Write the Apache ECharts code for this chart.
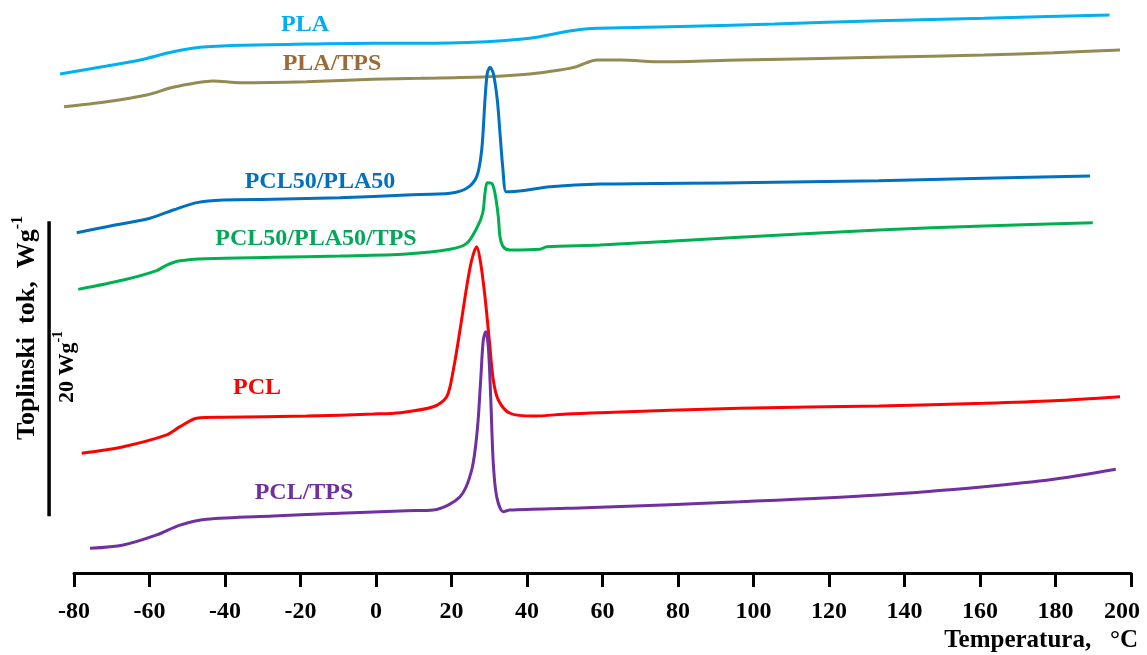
<!DOCTYPE html>
<html>
<head>
<meta charset="utf-8">
<script src="https://cdn.jsdelivr.net/npm/echarts@6/dist/echarts.min.js"></script>
<style>
html,body{margin:0;padding:0;background:#fff;}
#c{width:1147px;height:655px;}
</style>
</head>
<body>
<div id="c"></div>
<script>
// ---- data: [temperature (°C), heat flow (W/g, shifted)] ----
const seriesNames = ['PLA', 'PLA/TPS', 'PCL50/PLA50', 'PCL50/PLA50/TPS', 'PCL', 'PCL/TPS'];
const xTicks = [-80, -60, -40, -20, 0, 20, 40, 60, 80, 100, 120, 140, 160, 180, 200];

const PLA = [[-83.7,33.83],[-71.34,34.37],[-62.52,34.78],[-53.77,35.34],[-46.62,35.64],[-36.03,35.78],
  [-18.36,35.86],[-0.79,35.91],[11.66,35.91],[29.32,36.02],[38.15,36.18],[43.44,36.36],[48.74,36.63],
  [53.17,36.81],[58.46,36.93],[77.83,37.04],[105.56,37.22],[133.24,37.44],[161.06,37.61],[194.3,37.83]];

const PLA_TPS = [[-82.65,31.61],[-71.34,31.95],[-60.74,32.41],[-53.77,32.93],[-47.5,33.24],[-43.18,33.36],
  [-36.03,33.24],[-18.36,33.31],[-0.79,33.47],[11.66,33.54],[29.32,33.65],[40.79,33.83],[48.74,34.10],
  [53.17,34.33],[55.82,34.60],[58.46,34.78],[64.63,34.78],[75.97,34.66],[96.32,34.78],[133.24,34.96],
  [161.06,35.12],[179.52,35.27],[197.09,35.46]];

const PCL50_PLA50 = [[-79.28,23.07],[-71.34,23.48],[-59.87,24.05],[-53.7,24.61],[-47.5,25.11],[-40.45,25.29],
  [-27.21,25.34],[-9.54,25.44],[8.13,25.63],[19.6,25.74],[24.03,26.08],[26.67,26.87],[28.0,28.68],
  [28.87,32.07],[29.48,33.88],[30.2,34.28],[31.07,33.88],[32.13,32.07],[32.85,29.81],[33.56,27.55],
  [34.44,25.85],[35.5,25.85],[46.09,26.19],[59.34,26.37],[96.32,26.46],[133.24,26.60],[161.06,26.76],[189.14,26.92]];

const PCL50_PLA50_TPS = [[-78.86,19.23],[-66.94,19.86],[-58.09,20.50],[-55.44,20.88],[-51.92,21.17],[-44.85,21.31],
  [-27.21,21.40],[-9.54,21.49],[8.13,21.63],[19.6,21.95],[24.03,22.35],[26.67,23.37],[28.26,24.39],
  [28.87,25.74],[29.48,26.46],[30.65,26.42],[31.52,25.74],[32.4,24.16],[32.85,22.80],[33.72,22.12],
  [35.5,21.90],[43.44,21.95],[45.22,22.12],[59.34,22.24],[96.32,22.76],[133.24,23.25],[161.06,23.53],[189.88,23.75]];

const PCL = [[-77.96,8.12],[-66.94,8.56],[-55.44,9.36],[-51.92,9.92],[-47.5,10.49],[-40.45,10.56],
  [-18.36,10.64],[-0.72,10.78],[6.36,10.87],[15.18,11.27],[18.73,11.95],[20.48,13.76],[22.25,16.47],
  [24.03,19.41],[25.35,21.22],[26.67,22.12],[27.73,21.00],[28.87,18.73],[30.01,15.80],[31.07,13.08],
  [32.4,11.73],[35.5,10.83],[41.67,10.64],[50.52,10.78],[59.34,10.87],[96.32,11.17],[133.24,11.32],
  [161.06,11.51],[179.52,11.68],[197.09,11.95]];

const PCL_TPS = [[-75.76,1.67],[-66.94,1.90],[-58.09,2.58],[-51.92,3.25],[-44.85,3.64],[-27.21,3.86],
  [-9.54,4.05],[8.13,4.22],[15.18,4.27],[22.25,5.17],[25.35,6.98],[26.83,9.69],[27.73,13.08],
  [28.42,15.80],[29.06,16.36],[29.75,15.34],[30.38,11.95],[31.07,7.44],[31.97,5.17],[33.72,4.16],
  [35.5,4.27],[50.52,4.39],[59.34,4.45],[96.32,4.83],[133.24,5.29],[161.06,5.85],[179.52,6.35],[195.97,7.03]];

// scale bar: 20 W/g
const scaleBarTemp = -86.6;
const scaleBarFrom = 3.85;
const scaleBarLength = 20;

const lineColors = ['#00B0F0', '#948A54', '#0070C0', '#00B050', '#FF0000', '#7030A0'];
const textColors = ['#00AEEF', '#9C6A36', '#0070C0', '#00A859', '#FF0000', '#7030A0'];
const allData = [PLA, PLA_TPS, PCL50_PLA50, PCL50_PLA50_TPS, PCL, PCL_TPS];

const FONT = '"Times New Roman", "Liberation Serif", "DejaVu Serif", serif';

// layout: visible axis grid (-80..200) and a data grid with identical scale extending to -90
const X_MIN = -80, X_MAX = 200, X_DATA_MIN = -90;
const GRID_LEFT = 74, GRID_RIGHT = 16, GRID_TOP = 12.5, GRID_BOTTOM = 82;
const plotW = 1147 - GRID_LEFT - GRID_RIGHT;
const pxPerDeg = plotW / (X_MAX - X_MIN);
const dataGridLeft = GRID_LEFT - (X_MIN - X_DATA_MIN) * pxPerDeg;

const chart = echarts.init(document.getElementById('c'), null, {renderer: 'canvas'});

const series = allData.map((d, i) => ({
  name: seriesNames[i],
  type: 'line',
  xAxisIndex: 1, yAxisIndex: 1,
  data: d,
  smooth: 0.3,
  symbol: 'none',
  clip: false,
  silent: true,
  lineStyle: {color: lineColors[i], width: 3},
  itemStyle: {color: lineColors[i]},
  z: 3
}));

series.push({
  name: 'scale',
  type: 'line',
  xAxisIndex: 1, yAxisIndex: 1,
  data: [[scaleBarTemp, scaleBarFrom], [scaleBarTemp, scaleBarFrom + scaleBarLength]],
  symbol: 'none',
  clip: false,
  silent: true,
  lineStyle: {color: '#000', width: 3.5},
  z: 2
});

// label positions (px) for curve names
const labelPos = [[305, 25], [332, 64], [320, 182], [316, 239], [257, 388], [304, 493]];

const graphics = seriesNames.map((n, i) => ({
  type: 'text',
  x: labelPos[i][0], y: labelPos[i][1],
  silent: true,
  style: {
    text: n, fill: textColors[i], font: 'bold 24px ' + FONT,
    align: 'center', verticalAlign: 'middle'
  }
}));

graphics.push({
  type: 'text', x: 1138, y: 641, silent: true,
  style: {text: 'Temperatura,   °C', fill: '#000', font: 'bold 25px ' + FONT, align: 'right', verticalAlign: 'middle'}
});
graphics.push({
  type: 'text', x: 25, y: 328, rotation: Math.PI / 2, silent: true,
  style: {
    text: '{b|Toplinski  tok,  Wg}{s|-1}',
    align: 'center', verticalAlign: 'middle',
    rich: {
      b: {font: 'bold 26px ' + FONT, fill: '#000', verticalAlign: 'bottom', lineHeight: 30},
      s: {font: 'bold 16px ' + FONT, fill: '#000', verticalAlign: 'top', lineHeight: 30}
    }
  }
});
graphics.push({
  type: 'text', x: 65, y: 367, rotation: Math.PI / 2, silent: true,
  style: {
    text: '{b|20 Wg}{s|-1}',
    align: 'center', verticalAlign: 'middle',
    rich: {
      b: {font: 'bold 22px ' + FONT, fill: '#000', verticalAlign: 'bottom', lineHeight: 27},
      s: {font: 'bold 14px ' + FONT, fill: '#000', verticalAlign: 'top', lineHeight: 27}
    }
  }
});

chart.setOption({
  backgroundColor: '#fff',
  animation: false,
  grid: [
    {left: GRID_LEFT, right: GRID_RIGHT, top: GRID_TOP, bottom: GRID_BOTTOM, containLabel: false, outerBoundsMode: 'none'},
    {left: dataGridLeft, right: GRID_RIGHT, top: GRID_TOP, bottom: GRID_BOTTOM, containLabel: false, outerBoundsMode: 'none'}
  ],
  xAxis: [{
    gridIndex: 0,
    type: 'value', min: X_MIN, max: X_MAX, interval: 20,
    axisLine: {show: true, onZero: false, lineStyle: {color: '#000', width: 3}},
    axisTick: {show: true, length: 14, lineStyle: {color: '#000', width: 3}},
    axisLabel: {
      margin: 27, color: '#000', fontWeight: 'bold', fontSize: 24, fontFamily: FONT,
      formatter: v => !xTicks.includes(v) ? '' : (v === X_MAX ? v + '   ' : String(v))
    },
    splitLine: {show: false}
  }, {
    gridIndex: 1,
    type: 'value', min: X_DATA_MIN, max: X_MAX, show: false,
    splitLine: {show: false}
  }],
  yAxis: [{
    gridIndex: 0, type: 'value', min: 0, max: 38, show: false, splitLine: {show: false}
  }, {
    gridIndex: 1, type: 'value', min: 0, max: 38, show: false, splitLine: {show: false}
  }],
  series: series,
  graphic: graphics
});
</script>
</body>
</html>
